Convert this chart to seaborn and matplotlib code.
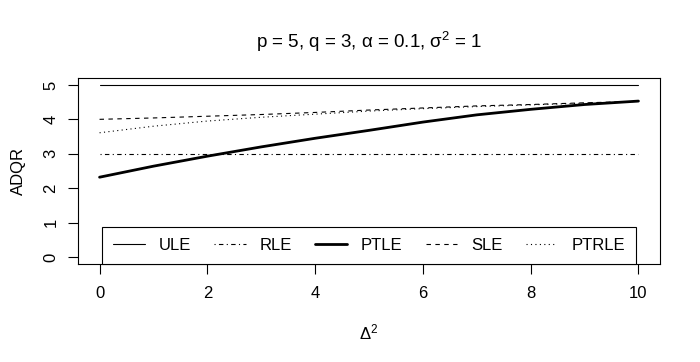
import matplotlib
matplotlib.use("Agg")
import matplotlib.pyplot as plt
import seaborn as sns
import pandas as pd

# values
delta2 = [0, 1, 2, 3, 4, 5, 6, 7, 8, 9, 10]
ule = [5.0] * 11
rle = [3.0] * 11
ptle = [2.32, 2.64, 2.93, 3.20, 3.45, 3.68, 3.92, 4.13, 4.29, 4.43, 4.53]
sle = [4.00, 4.04, 4.09, 4.14, 4.20, 4.27, 4.33, 4.39, 4.43, 4.48, 4.52]
ptrle = [3.61, 3.80, 3.95, 4.06, 4.15, 4.24, 4.31, 4.37, 4.42, 4.47, 4.52]
names = ["ULE", "RLE", "PTLE", "SLE", "PTRLE"]

sns.set_theme(style="white")
plt.rcParams["font.family"] = ["Liberation Sans", "DejaVu Sans"]
plt.rcParams["mathtext.fontset"] = "custom"
plt.rcParams["mathtext.rm"] = "Liberation Sans"
plt.rcParams["mathtext.it"] = "Liberation Sans"
plt.rcParams["mathtext.default"] = "regular"
for k in ["text.color", "axes.labelcolor", "xtick.color", "ytick.color"]:
    plt.rcParams[k] = "black"

df = pd.DataFrame({"d": delta2, "ULE": ule, "RLE": rle, "PTLE": ptle,
                   "SLE": sle, "PTRLE": ptrle})

# R style line types
styles = {
    "ULE": dict(lw=0.8, ls="-"),
    "RLE": dict(lw=0.8, ls=(0, (1, 3, 4, 3))),
    "PTLE": dict(lw=2.0, ls="-"),
    "SLE": dict(lw=0.8, ls=(0, (4, 4))),
    "PTRLE": dict(lw=0.8, ls=(0, (1, 3))),
}

fig = plt.figure(figsize=(7, 3.62), dpi=100)
ax = fig.add_axes([78 / 700, 1 - 264 / 362, 582 / 700, 186 / 362])

for nm in names:
    sns.lineplot(data=df, x="d", y=nm, ax=ax, color="black",
                 linewidth=styles[nm]["lw"], linestyle=styles[nm]["ls"],
                 label=nm, legend=False)

ax.set_xlim(-0.4, 10.4)
ax.set_ylim(-0.2, 5.2)
ax.set_xticks([0, 2, 4, 6, 8, 10])
ax.set_yticks([0, 1, 2, 3, 4, 5])
for sp in ax.spines.values():
    sp.set_color("black")
    sp.set_linewidth(0.8)
ax.tick_params(axis="both", direction="out", length=7, width=0.8,
               color="black", labelcolor="black", labelsize=12,
               bottom=True, left=True)
ax.tick_params(axis="x", pad=9)
ax.tick_params(axis="y", labelrotation=90, pad=7)
for lab in ax.get_yticklabels():
    lab.set_va("center")

ax.set_xlabel(r"$\Delta^2$", fontsize=12, labelpad=15)
ax.set_ylabel("ADQR", fontsize=12, labelpad=13)
ax.set_title(r"p = 5, q = 3, $\alpha$ = 0.1, $\sigma^2$ = 1",
             fontsize=13.5, pad=21.5)

leg = ax.legend(loc="lower left", ncol=5, mode="expand",
                bbox_to_anchor=((102 - 78) / 582, 0, (636 - 102) / 582, 0.2),
                fontsize=12, frameon=True, fancybox=False, framealpha=1,
                edgecolor="black", borderpad=0.65, handlelength=1.9,
                handletextpad=0.85, borderaxespad=0)
leg.get_frame().set_linewidth(0.8)

fig.savefig("out.png", dpi=100)
